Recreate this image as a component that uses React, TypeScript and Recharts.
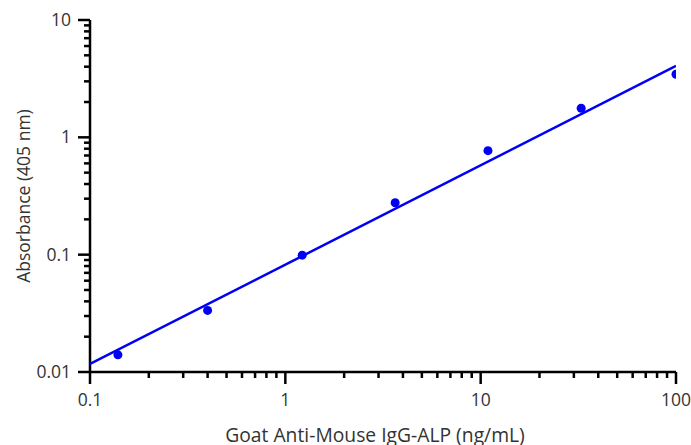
import React from 'react';
import { ScatterChart, Scatter, XAxis, YAxis } from 'recharts';

const concentration = [0.139, 0.4, 1.22, 3.65, 10.9, 32.7, 100];
const absorbance = [0.014, 0.0335, 0.099, 0.277, 0.77, 1.77, 3.45];
const fitX = [0.1, 100];
const fitY = [0.0117, 4.06];

const xMajor = [0.1, 1, 10, 100];
const xMinor = [0.2, 0.3, 0.4, 0.5, 0.6, 0.7, 0.8, 0.9, 2, 3, 4, 5, 6, 7, 8, 9, 20, 30, 40, 50, 60, 70, 80, 90];
const yMajor = [0.01, 0.1, 1, 10];
const yMinor = [0.02, 0.03, 0.04, 0.05, 0.06, 0.07, 0.08, 0.09, 0.2, 0.3, 0.4, 0.5, 0.6, 0.7, 0.8, 0.9, 2, 3, 4, 5, 6, 7, 8, 9];

const points = concentration.map((x, i) => ({ x, y: absorbance[i] }));
const fit = fitX.map((x, i) => ({ x, y: fitY[i] }));

const BLUE = '#0000f5';
const TEXT = '#333';
const FONT = '"Open Sans", sans-serif';

const XTick = (props: any) => {
  const { x, y, payload } = props;
  const major = xMajor.includes(payload.value);
  return (
    <g>
      <line x1={x} x2={x} y1={y} y2={y + (major ? 12 : 6)} stroke="#000" strokeWidth={2.5} />
      {major && (
        <text x={x} y={y + 34} textAnchor="middle" fill={TEXT} fontSize={17.5} fontFamily={FONT}>
          {payload.value}
        </text>
      )}
    </g>
  );
};

const YTick = (props: any) => {
  const { x, y, payload } = props;
  const major = yMajor.includes(payload.value);
  return (
    <g>
      <line x1={x - (major ? 12 : 6)} x2={x} y1={y} y2={y} stroke="#000" strokeWidth={2.5} />
      {major && (
        <text x={x - 19} y={y + 6} textAnchor="end" fill={TEXT} fontSize={17.5} fontFamily={FONT}>
          {payload.value}
        </text>
      )}
    </g>
  );
};

export default function App() {
  return (
    <div style={{ position: 'absolute', left: 0, top: 0 }}>
      <ScatterChart width={691} height={445} margin={{ top: 20, right: 15, bottom: 0, left: 0 }}>
        <XAxis
          dataKey="x"
          type="number"
          scale="log"
          domain={[0.1, 100]}
          ticks={[...xMajor, ...xMinor]}
          interval={0}
          tickSize={0}
          tickMargin={0}
          tickLine={false}
          tick={<XTick />}
          axisLine={{ stroke: '#000', strokeWidth: 2.5 }}
          height={73}
          allowDataOverflow
          label={{ value: 'Goat Anti-Mouse IgG-ALP (ng/mL)', position: 'insideBottom', offset: 3, dx: -8, fill: TEXT, fontSize: 19.3, fontFamily: FONT }}
        />
        <YAxis
          dataKey="y"
          type="number"
          scale="log"
          domain={[0.01, 10]}
          ticks={[...yMajor, ...yMinor]}
          interval={0}
          tickSize={0}
          tickMargin={0}
          tickLine={false}
          tick={<YTick />}
          axisLine={{ stroke: '#000', strokeWidth: 2.5 }}
          width={90}
          allowDataOverflow
          label={{ value: 'Absorbance (405 nm)', angle: -90, position: 'insideLeft', offset: 24, fill: TEXT, fontSize: 17.5, fontFamily: FONT, style: { textAnchor: 'middle' } }}
        />
        <Scatter
          data={fit}
          fill="none"
          line={{ stroke: BLUE, strokeWidth: 2.5 }}
          shape={() => <g />}
          isAnimationActive={false}
        />
        <Scatter
          data={points}
          fill={BLUE}
          shape={(p: any) => <circle cx={p.cx} cy={p.cy} r={4.5} fill={BLUE} />}
          isAnimationActive={false}
        />
      </ScatterChart>
    </div>
  );
}
